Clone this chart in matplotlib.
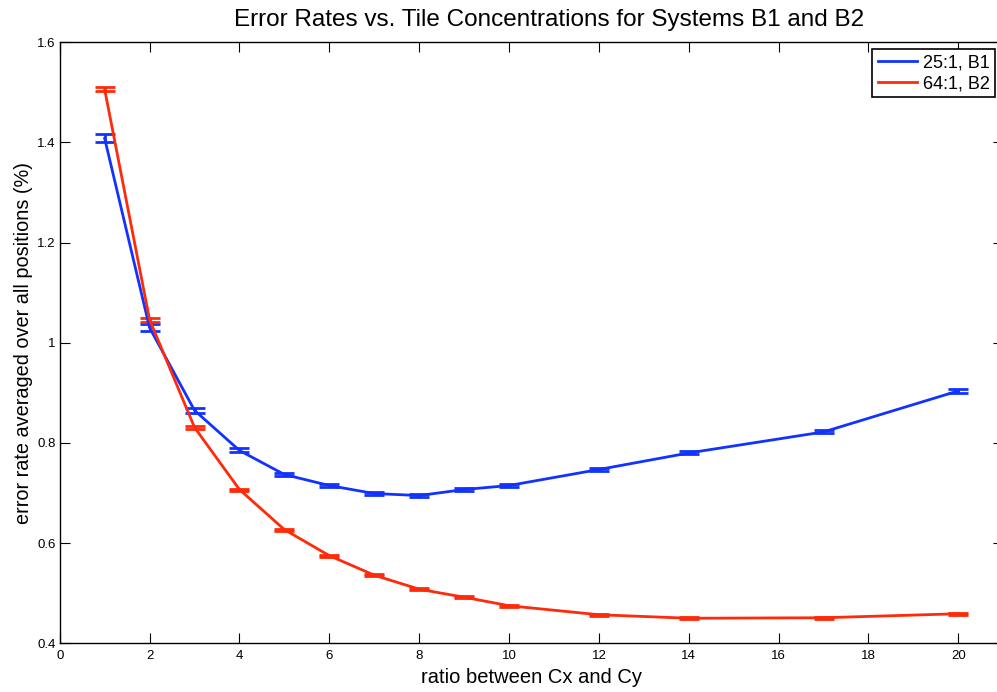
import matplotlib
matplotlib.use("Agg")
import matplotlib.pyplot as plt
from matplotlib.ticker import FuncFormatter
from matplotlib.lines import Line2D

x = [1, 2, 3, 4, 5, 6, 7, 8, 9, 10, 12, 14, 17, 20]
b1 = [1.408, 1.030, 0.865, 0.785, 0.737, 0.715, 0.699, 0.695, 0.707, 0.715, 0.747, 0.780, 0.822, 0.904]
b1_err = [0.008, 0.007, 0.005, 0.004, 0.003, 0.003, 0.003, 0.003, 0.003, 0.003, 0.003, 0.003, 0.003, 0.004]
b2 = [1.506, 1.046, 0.831, 0.707, 0.627, 0.575, 0.536, 0.508, 0.492, 0.475, 0.457, 0.450, 0.451, 0.459]
b2_err = [0.004, 0.004, 0.003, 0.002, 0.002, 0.002, 0.002, 0.002, 0.002, 0.002, 0.002, 0.002, 0.002, 0.002]
labels = ["25:1, B1", "64:1, B2"]
colors = ['#1233ff', '#ff2a0a']

plt.rcParams['font.family'] = ['Liberation Sans', 'DejaVu Sans']
fig = plt.figure(figsize=(9.97, 6.92), dpi=100)
ax = fig.add_axes([0.0599, 0.0704, 0.9464, 0.8685])

ax.errorbar(x, b1, yerr=b1_err, color=colors[0], lw=2, capsize=7, capthick=2)
ax.errorbar(x, b2, yerr=b2_err, color=colors[1], lw=2, capsize=7, capthick=2)

ax.set_xlim(0, 21)
ax.set_ylim(0.4, 1.6)
ax.set_xticks(range(0, 21, 2))
ax.set_yticks([0.4, 0.6, 0.8, 1.0, 1.2, 1.4, 1.6])
ax.yaxis.set_major_formatter(FuncFormatter(lambda v, p: ('%g' % round(v, 2))))
ax.tick_params(direction='in', top=True, right=True, labelsize=9.5, length=7)
ax.tick_params(axis='x', pad=5)
ax.tick_params(axis='y', pad=3)
for s in ax.spines.values():
    s.set_linewidth(1)

ax.set_title("Error Rates vs. Tile Concentrations for Systems B1 and B2", fontsize=17.5, pad=12, x=0.519)
ax.set_xlabel("ratio between Cx and Cy", fontsize=14.5, labelpad=4)
ax.set_ylabel("error rate averaged over all positions (%)", fontsize=14.3, labelpad=3)

handles = [Line2D([], [], color=c, lw=2) for c in colors]
leg = ax.legend(handles, labels, loc='upper right', fontsize=13, fancybox=False, framealpha=1,
                edgecolor='black', handlelength=2.2, handletextpad=0.3, borderpad=0.3,
                labelspacing=0.2, borderaxespad=0,
                bbox_to_anchor=(995/997, 1-49/692), bbox_transform=fig.transFigure)
leg.get_frame().set_linewidth(1.2)

fig.savefig("out.png", dpi=100)
